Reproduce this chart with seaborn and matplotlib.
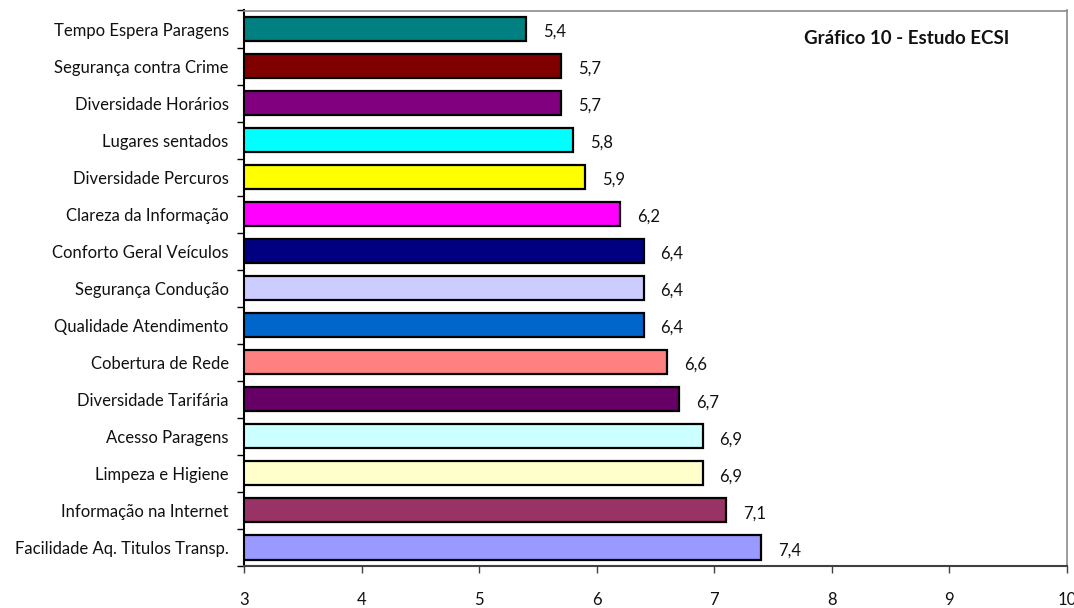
import numpy as np
import pandas as pd
import matplotlib
matplotlib.use("Agg")
import matplotlib.pyplot as plt
import seaborn as sns

# Satisfaction attributes (top to bottom) and their scores
categories = [
    "Tempo Espera Paragens",
    "Segurança contra Crime",
    "Diversidade Horários",
    "Lugares sentados",
    "Diversidade Percuros",
    "Clareza da Informação",
    "Conforto Geral Veículos",
    "Segurança Condução",
    "Qualidade Atendimento",
    "Cobertura de Rede",
    "Diversidade Tarifária",
    "Acesso Paragens",
    "Limpeza e Higiene",
    "Informação na Internet",
    "Facilidade Aq. Titulos Transp.",
]
scores = [5.4, 5.7, 5.7, 5.8, 5.9, 6.2, 6.4, 6.4, 6.4, 6.6, 6.7, 6.9, 6.9, 7.1, 7.4]
bar_colors = [
    "#008080", "#800000", "#800080", "#00FFFF", "#FFFF00",
    "#FF00FF", "#000080", "#CCCCFF", "#0066CC", "#FF8080",
    "#660066", "#CCFFFF", "#FFFFCC", "#993366", "#9999FF",
]
x_ticks = [3, 4, 5, 6, 7, 8, 9, 10]
title = "Gráfico 10 - Estudo ECSI"

sns.set_style("white")
plt.rcParams["font.family"] = ["Lato", "DejaVu Sans"]

FS = 12

df = pd.DataFrame({"categoria": categories, "valor": scores})

fig = plt.figure(figsize=(10.74, 6.08), dpi=100)
ax = fig.add_axes([244 / 1074, 42 / 608, (1067 - 244) / 1074, (566 - 10.5) / 608])

sns.barplot(
    data=df, x="valor", y="categoria", hue="categoria",
    palette=dict(zip(categories, bar_colors)), legend=False,
    orient="h", width=0.65, edgecolor="black", linewidth=1.6,
    saturation=1, ax=ax,
)

ax.set_xlim(3, 10)
ax.set_ylim(len(categories) - 0.5, -0.5)
ax.set_xticks(x_ticks)
ax.set_xticklabels([str(t) for t in x_ticks])
ax.set_xlabel("")
ax.set_ylabel("")

# Category separators as minor ticks on the left axis
ax.set_yticks(np.arange(-0.5, len(categories), 1), minor=True)
ax.tick_params(axis="y", which="major", length=0, pad=11, labelsize=FS, colors="#111111")
ax.tick_params(axis="y", which="minor", length=5, width=1, color="black", left=True)
ax.tick_params(axis="x", which="major", length=5, width=1, color="#404040",
               bottom=True, pad=14, labelsize=FS, labelcolor="#111111")

for side in ("top", "right"):
    ax.spines[side].set_color("#8c8c8c")
    ax.spines[side].set_linewidth(1.2)
ax.spines["left"].set_color("black")
ax.spines["left"].set_linewidth(1.5)
ax.spines["bottom"].set_color("#404040")
ax.spines["bottom"].set_linewidth(1.5)

for cont in ax.containers:
    texts = ax.bar_label(
        cont,
        labels=[f"{v:.1f}".replace(".", ",") for v in cont.datavalues],
        padding=12, fontsize=FS, color="#111111",
    )
    for t in texts:
        t.set_y(-2)

fig.text(804 / 1074, 1 - 38 / 608, title, ha="left", va="center",
         fontsize=13.5, fontweight="bold", color="#111111")

fig.savefig("out.png", dpi=100)
